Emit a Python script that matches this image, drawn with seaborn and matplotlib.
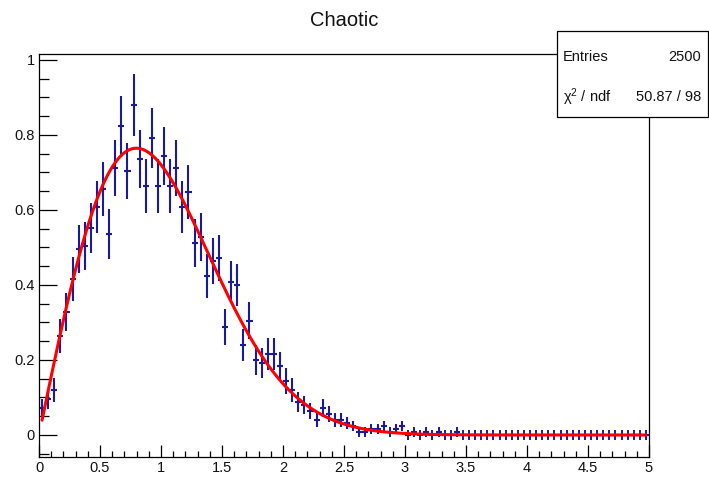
import numpy as np
import pandas as pd
import matplotlib
matplotlib.use("Agg")
import matplotlib.pyplot as plt
from matplotlib.patches import Rectangle
from matplotlib.ticker import MultipleLocator, FormatStrFormatter
import seaborn as sns

# ---- histogram definition -------------------------------------------------
TITLE = "Chaotic"
ENTRIES = 2500
CHI2_NDF = "50.87 / 98"
X_LOW, X_HIGH, N_BINS = 0.0, 5.0, 100

# raw bin contents (entries per bin), bins 0..99
counts = [
    9, 12, 15, 33, 41, 52, 62, 63, 69, 76, 82, 67, 89, 103,
    88, 110, 92, 83, 99, 83, 93, 83, 89, 76, 81, 64, 66, 53,
    58, 59, 36, 51, 50, 30, 38, 25, 24, 27, 27, 23, 18,
    15, 11, 10, 8, 5, 9, 7, 5, 5, 4, 3, 1,
    1, 2, 2, 3, 1, 2, 3, 0, 1, 0, 1, 0, 1, 0, 0, 1,
] + [0] * 31

# fitted Wigner-type model  f(s) = A * s * exp(-B * s^2)
FIT_A = 1.58
FIT_B = 0.785

x_ticks_major = 0.5
y_ticks_major = 0.2

# ---- derived quantities ---------------------------------------------------
counts = np.array(counts, dtype=float)
width = (X_HIGH - X_LOW) / N_BINS
centers = X_LOW + width * (np.arange(N_BINS) + 0.5)
norm = ENTRIES * width
density = counts / norm
errors = np.sqrt(counts) / norm

hist_df = pd.DataFrame({"s": centers, "p": density, "err": errors})
s_fit = np.linspace(centers[0], centers[-1], 500)
fit_df = pd.DataFrame({"s": s_fit, "f": FIT_A * s_fit * np.exp(-FIT_B * s_fit ** 2)})

# ---- styling --------------------------------------------------------------
sns.set_theme(style="white")
plt.rcParams["font.family"] = ["Liberation Sans", "DejaVu Sans"]
plt.rcParams["mathtext.fontset"] = "custom"
plt.rcParams["mathtext.rm"] = "Liberation Sans"
plt.rcParams["mathtext.it"] = "Liberation Sans"

BLUE = "#1a1a9e"
W, H = 709, 478
fig = plt.figure(figsize=(W / 100, H / 100), dpi=100)
fig.patch.set_facecolor("white")

left, right, top, bottom = 39, 649, 54, 457
ax = fig.add_axes([left / W, 1 - bottom / H, (right - left) / W, (bottom - top) / H])
ax.set_facecolor("white")

# histogram with statistical errors
ax.errorbar(hist_df["s"], hist_df["p"], xerr=width / 2, yerr=hist_df["err"],
            fmt="none", ecolor=BLUE, elinewidth=1.5, capsize=0, zorder=2)
ax.plot(hist_df["s"], hist_df["p"], ls="none", marker="|", ms=6.5, mew=1.4,
        color=BLUE, zorder=2)

# fitted curve
sns.lineplot(data=fit_df, x="s", y="f", color="#ff0000", lw=2.2, ax=ax,
             zorder=3, sort=False)

ax.set_xlim(X_LOW, X_HIGH)
ax.set_ylim(-0.0587, 1.016)
ax.set_xlabel("")
ax.set_ylabel("")

ax.xaxis.set_major_locator(MultipleLocator(x_ticks_major))
ax.xaxis.set_minor_locator(MultipleLocator(0.1))
ax.yaxis.set_major_locator(MultipleLocator(y_ticks_major))
ax.yaxis.set_minor_locator(MultipleLocator(0.05))
ax.xaxis.set_major_formatter(FormatStrFormatter("%g"))
ax.yaxis.set_major_formatter(FormatStrFormatter("%g"))

ax.tick_params(axis="x", which="major", direction="in", length=8.6, width=0.9,
               color="black", labelsize=10.5, pad=3, labelcolor="#111111",
               bottom=True, top=False)
ax.tick_params(axis="x", which="minor", direction="in", length=4.5, width=0.9,
               color="black", bottom=True, top=False)
ax.tick_params(axis="y", which="major", direction="in", length=13, width=0.9,
               color="black", labelsize=10.5, pad=3, labelcolor="#111111",
               left=True, right=False)
ax.tick_params(axis="y", which="minor", direction="in", length=7, width=0.9,
               color="black", left=True, right=False)

for sp in ax.spines.values():
    sp.set_color("black")
    sp.set_linewidth(0.9)

# title
fig.text((left + right) / 2 / W, 1 - 20 / H, TITLE, ha="center", va="center",
         fontsize=14.5, color="#111111")

# statistics box
bx0, bx1, by0, by1 = 557, 708, 31, 117
fig.add_artist(Rectangle((bx0 / W, 1 - by1 / H), (bx1 - bx0) / W, (by1 - by0) / H,
                         transform=fig.transFigure, facecolor="white",
                         edgecolor="black", lw=0.9, zorder=5))
fig.text(563 / W, 1 - 57 / H, "Entries", ha="left", va="center",
         fontsize=10.5, zorder=6, color="#111111")
fig.text(701 / W, 1 - 57 / H, f"{ENTRIES}", ha="right", va="center",
         fontsize=10.5, zorder=6, color="#111111")
fig.text(563 / W, 1 - 97 / H, r"χ$^{2}$ / ndf", ha="left", va="center",
         fontsize=10.5, zorder=6, color="#111111")
fig.text(701 / W, 1 - 97 / H, CHI2_NDF, ha="right", va="center",
         fontsize=10.5, zorder=6, color="#111111")

fig.savefig("out.png", dpi=100, facecolor="white")
